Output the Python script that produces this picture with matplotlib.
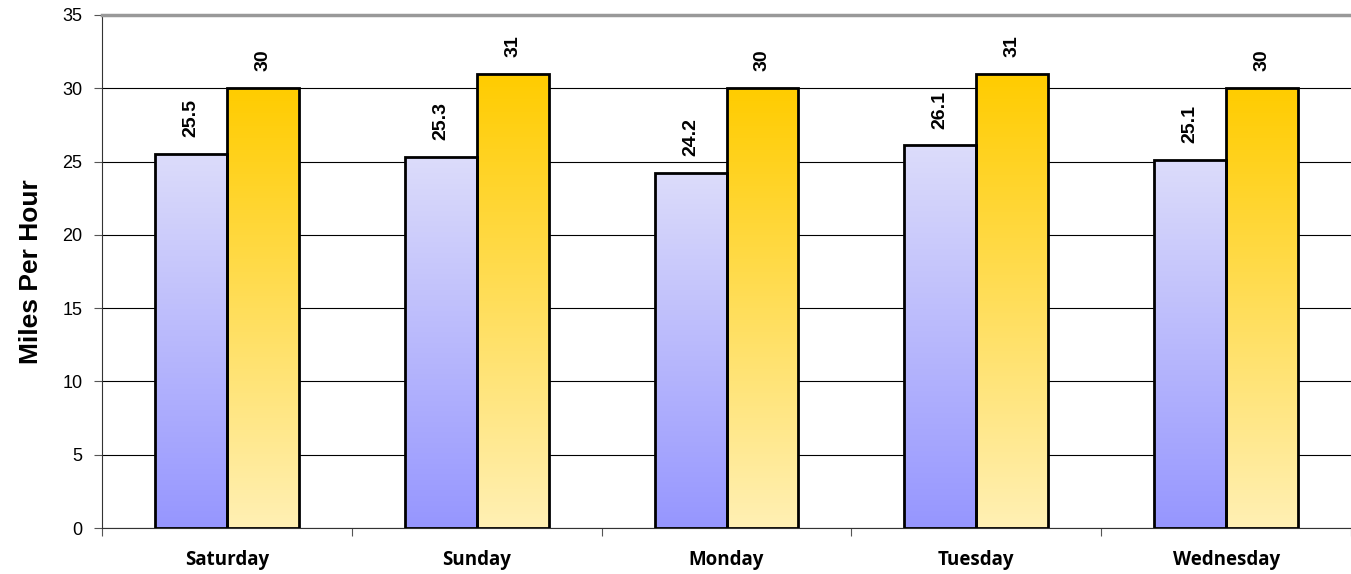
import numpy as np
import matplotlib
matplotlib.use('Agg')
import matplotlib.pyplot as plt
from matplotlib.colors import LinearSegmentedColormap

days = ['Saturday', 'Sunday', 'Monday', 'Tuesday', 'Wednesday']
actual = [25.5, 25.3, 24.2, 26.1, 25.1]
limit = [30, 31, 30, 31, 30]

blue_cmap = LinearSegmentedColormap.from_list('b', ['#9696ff', '#dcdcfa'])
gold_cmap = LinearSegmentedColormap.from_list('g', ['#fff0b4', '#ffcc00'])

fig = plt.figure(figsize=(13.51, 5.74), dpi=100)
ax = fig.add_axes([0.0755, 0.0801, 0.9245, 0.8938])

x = np.arange(len(days))
w = 0.288


def gradient_bars(bars, cmap):
    grad = np.linspace(0, 1, 256).reshape(-1, 1)
    for b in bars:
        x0, y0 = b.get_x(), b.get_y()
        h = b.get_height()
        im = ax.imshow(grad, cmap=cmap, origin='lower', aspect='auto',
                       extent=(x0, x0 + b.get_width(), y0, y0 + h),
                       zorder=2)
        im.set_clip_path(b)


b1 = ax.bar(x - w / 2, actual, w, facecolor='none', edgecolor='black',
            lw=2, zorder=3)
b2 = ax.bar(x + w / 2, limit, w, facecolor='none', edgecolor='black',
            lw=2, zorder=3)
gradient_bars(b1, blue_cmap)
gradient_bars(b2, gold_cmap)

for xs, vals in ((x - w / 2, actual), (x + w / 2, limit)):
    for xi, v in zip(xs, vals):
        ax.text(xi, v + 1.15, f'{v:g}', rotation=90, ha='center',
                va='bottom', fontsize=14, fontweight='bold',
                family='Liberation Sans')

ax.set_xlim(-0.5, len(days) - 0.5)
ax.set_ylim(0, 35)
ax.set_yticks(np.arange(0, 36, 5))
ax.yaxis.grid(True, color='black', lw=0.8)
ax.set_axisbelow(True)

ax.set_xticks(np.arange(-0.5, len(days), 1), minor=False)
ax.set_xticklabels([])
ax.set_xticks(x, minor=True)
ax.set_xticklabels(days, minor=True, fontsize=13.5, fontweight='bold',
                   family='Open Sans')
ax.tick_params(axis='x', which='minor', length=0, pad=16)
ax.tick_params(axis='x', which='major', length=6, color='#555555')
ax.tick_params(axis='y', length=6, labelsize=13, pad=8, color='#555555')
for lab in ax.get_yticklabels():
    lab.set_family('Liberation Sans')

ax.spines['right'].set_visible(False)
ax.spines['top'].set_color('#999999')
ax.spines['top'].set_linewidth(2.5)
ax.spines['left'].set_color('#333333')
ax.spines['bottom'].set_color('#333333')

ax.set_ylabel('Miles Per Hour', fontsize=19, fontweight='bold',
              family='Liberation Sans', labelpad=14)

fig.savefig('out.png', dpi=100)
